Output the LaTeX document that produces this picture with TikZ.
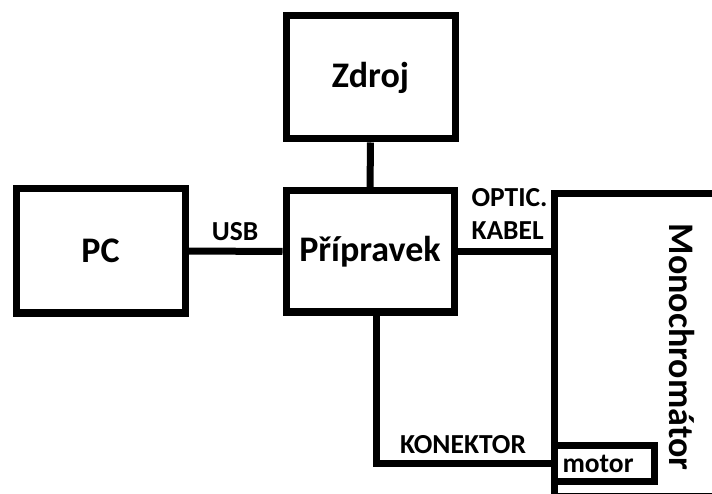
\documentclass[tikz,border=0pt]{standalone}
\usepackage{fontspec}
\setmainfont{Carlito}
\usetikzlibrary{calc}

\begin{document}
\begin{tikzpicture}[x=1pt,y=-1pt,line width=7pt,
	velky/.style={font=\fontsize{36}{42}\selectfont\bfseries},
	blok/.style={shape=rectangle,draw=black,inner sep=0pt,velky},
	popis/.style={inner sep=0pt,font=\fontsize{27.5}{32}\selectfont\bfseries}]
	\useasboundingbox (0,0) rectangle (712,494);

	\node[blok,minimum width=169pt,minimum height=124pt] (pc) at (100.5,251) {PC};
	\node[blok,minimum width=169pt,minimum height=123pt] (zdroj) at (370.5,77.5) {Zdroj};
	\node[blok,minimum width=168pt,minimum height=121pt] (prip) at (370,251.5) {Přípravek};
	\node[blok,minimum width=176pt,minimum height=303pt] (mono) at (642,345) {};
	\node[blok,minimum width=100pt,minimum height=36pt] (motor) at (604,463) {};

	\node[velky,inner sep=0pt,rotate=-90] (monotext) at (682,347) {Monochromátor};
	\node[popis,anchor=base] (motortext) at (598,472) {motor};

	\draw[-] (zdroj) -- (prip);
	\draw[-] (pc) -- (prip);
	\draw[-] (prip.east) -- (prip.east -| mono.west);
	\draw[-] ($(prip.south)+(6,0)$) |- (motor.west);

	\node[popis,anchor=base] (usb) at (235,241) {USB};
	\node[popis,anchor=base west] (optic) at (468,207) {OPTIC.};
	\node[popis,anchor=base west] (kabel) at (468,240) {KABEL};
	\node[popis,anchor=base] (konektor) at (463,453) {KONEKTOR};
\end{tikzpicture}
\end{document}
